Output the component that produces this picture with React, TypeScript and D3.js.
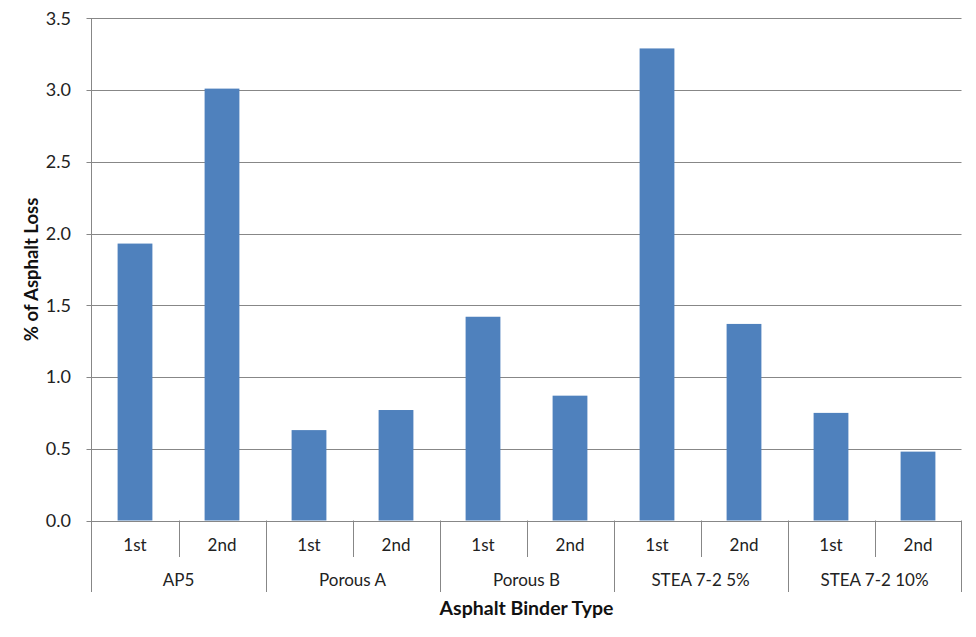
import React from "react";
import * as d3 from "d3";

const groups = ["AP5", "Porous A", "Porous B", "STEA 7-2 5%", "STEA 7-2 10%"];
const runs = ["1st", "2nd"];
const values = [1.93, 3.01, 0.63, 0.77, 1.42, 0.87, 3.29, 1.37, 0.75, 0.48];
const yTicks = [0, 0.5, 1.0, 1.5, 2.0, 2.5, 3.0, 3.5];
const yTitle = "% of Asphalt Loss";
const xTitle = "Asphalt Binder Type";

const W = 976, H = 637;
const left = 91.5, right = 961.5, top = 18.3, bottom = 520.5;
const FONT = "Lato, 'Open Sans', sans-serif";
const GRID = "#878787";

export default function App() {
  const keys = values.map((_, i) => i);
  const x = d3.scaleBand<number>().domain(keys).range([left, right]).paddingInner(0.6).paddingOuter(0.3);
  const xStep = (right - left) / values.length;
  const y = d3.scaleLinear().domain([0, 3.5]).range([bottom, top]);
  return (
    <svg width={W} height={H} style={{ position: "absolute", left: 0, top: 0, background: "#fff" }}>
      <rect x={0} y={0} width={W} height={H} fill="#fff" />
      {yTicks.map((t) => (
        <g key={t}>
          <line x1={left - 5} x2={right} y1={Math.round(y(t)) + 0.5} y2={Math.round(y(t)) + 0.5} stroke={GRID} strokeWidth={1} />
          <text x={71} y={y(t)} dy="0.35em" textAnchor="end" fontFamily={FONT} fontSize={18} fill="#222">
            {d3.format(".1f")(t)}
          </text>
        </g>
      ))}
      {values.map((v, i) => (
        <rect key={i} x={x(i)} y={y(v)} width={x.bandwidth()} height={y(0) - y(v)} fill="#4F81BD" />
      ))}
      <line x1={left} x2={left} y1={top} y2={592} stroke={GRID} />
      <line x1={right} x2={right} y1={bottom} y2={592} stroke={GRID} />
      {values.map((_, i) => {
        const xs = left + xStep * i;
        if (i === 0) return null;
        const isGroup = i % 2 === 0;
        return <line key={"s" + i} x1={Math.round(xs) + 0.5} x2={Math.round(xs) + 0.5} y1={bottom} y2={isGroup ? 592 : 557} stroke={GRID} />;
      })}
      {values.map((_, i) => (
        <text key={"r" + i} x={left + xStep * (i + 0.5)} y={545} dy="0.35em" textAnchor="middle" fontFamily={FONT} fontSize={17} fill="#222">
          {runs[i % 2]}
        </text>
      ))}
      {groups.map((g, j) => (
        <text key={g} x={left + xStep * (2 * j + 1)} y={580} dy="0.35em" textAnchor="middle" fontFamily={FONT} fontSize={17} fill="#222">
          {g}
        </text>
      ))}
      <text x={(left + right) / 2} y={608} dy="0.35em" textAnchor="middle" fontFamily={FONT} fontSize={19.5} fontWeight="bold" fill="#111">
        {xTitle}
      </text>
      <text transform={`translate(32,${(top + bottom) / 2}) rotate(-90)`} dy="0.35em" textAnchor="middle" fontFamily={FONT} fontSize={18.5} fontWeight="bold" fill="#111">
        {yTitle}
      </text>
    </svg>
  );
}
